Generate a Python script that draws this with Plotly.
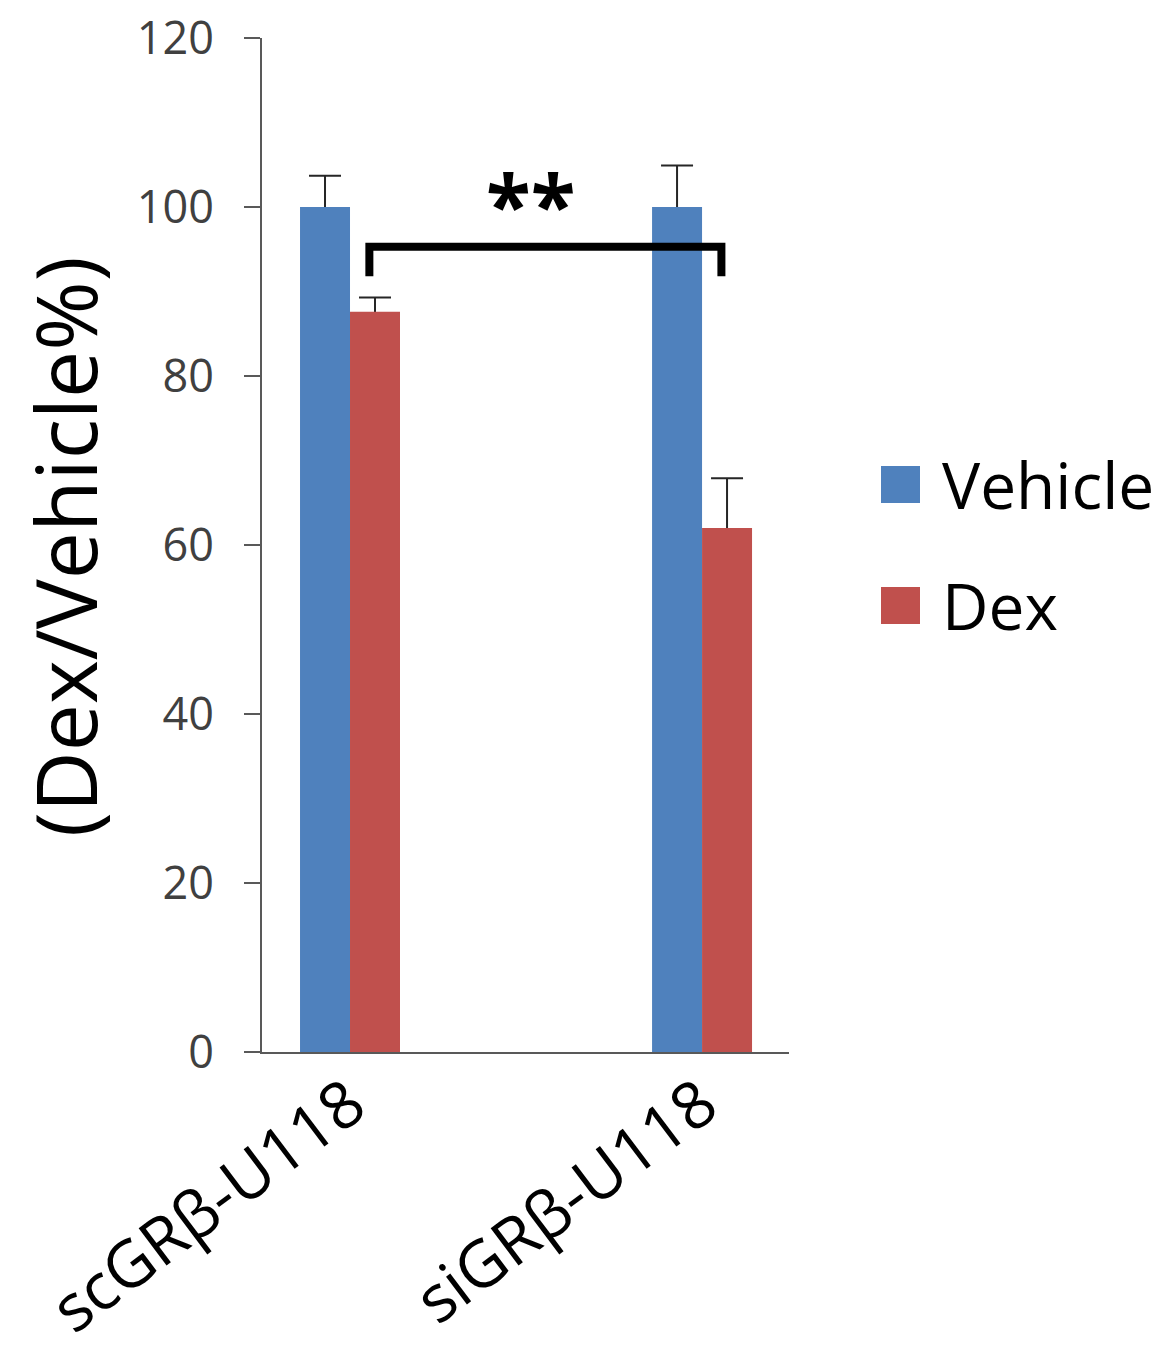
import plotly.graph_objects as go

categories = ["scGRβ-U118", "siGRβ-U118"]
vehicle = [100.0, 100.0]
vehicle_err = [3.7, 4.9]
dex = [87.6, 62.0]
dex_err = [1.7, 5.9]
y_ticks = [0, 20, 40, 60, 80, 100, 120]
series_names = ["Vehicle", "Dex"]
colors = ["#4F81BD", "#C0504D"]

bracket_top = 95.3
bracket_leg = 91.8
stars_y = 100.5

FONT = "Open Sans"
W, H = 1163, 1362
L, T = 262, 38
pw, ph = 527, 1014
R, B = W - L - pw, H - T - ph

fig = go.Figure()
series = [(series_names[0], vehicle, vehicle_err, colors[0], "v"),
          (series_names[1], dex, dex_err, colors[1], "d")]
# error-bar carriers drawn first (hidden bars) so real bars cover the lower half
for name, vals, errs, col, grp in series:
    fig.add_trace(go.Bar(
        name=name + " err", x=categories, y=vals, offsetgroup=grp,
        marker=dict(color="rgba(0,0,0,0)", line=dict(width=0)),
        error_y=dict(type="data", array=errs, symmetric=True,
                     color="#262626", thickness=2, width=16),
        showlegend=False, hoverinfo="skip",
    ))
for name, vals, errs, col, grp in series:
    fig.add_trace(go.Bar(
        name=name, x=categories, y=vals, offsetgroup=grp,
        marker=dict(color=col, line=dict(width=0)),
        showlegend=False,
    ))

# significance bracket between the two Dex bars
off = 0.055
xl, xr = 0 + off, 1 + off
fig.add_shape(type="path", xref="x", yref="y",
              path=f"M {xl},{bracket_leg} L {xl},{bracket_top} L {xr},{bracket_top} L {xr},{bracket_leg}",
              line=dict(color="black", width=8), layer="above")
fig.add_annotation(x=(xl + xr) / 2 - 0.043, y=stars_y, xref="x", yref="y", text="<b>**</b>",
                   showarrow=False, font=dict(family=FONT, size=82, color="black"),
                   xanchor="center", yanchor="middle")


def px_x(px):
    return (px - L) / pw


def px_y(py):
    return (T + ph - py) / ph


# manual legend
for i, (name, col) in enumerate(zip(series_names, colors)):
    y0 = 466 + i * 121
    fig.add_shape(type="rect", xref="paper", yref="paper",
                  x0=px_x(881), x1=px_x(920), y0=px_y(y0 + 37), y1=px_y(y0),
                  fillcolor=col, line=dict(width=0))
    fig.add_annotation(x=px_x(940), y=px_y(y0 + 18), xref="paper", yref="paper", text=name,
                       showarrow=False, xanchor="left", yanchor="middle",
                       font=dict(family=FONT, size=64, color="black"))

# y axis title
fig.add_annotation(x=px_x(64), y=px_y(547), xref="paper", yref="paper",
                   text="(Dex/Vehicle%)", textangle=-90, showarrow=False,
                   xanchor="center", yanchor="middle",
                   font=dict(family=FONT, size=84, color="black"))

fig.update_layout(
    width=W, height=H,
    margin=dict(l=L, r=R, t=T, b=B, autoexpand=False),
    paper_bgcolor="white", plot_bgcolor="white",
    barmode="group", bargap=0.716, bargroupgap=0,
    font=dict(family=FONT, color="#404040"),
    xaxis=dict(type="category", range=[-0.25, 1.247], showline=True, linecolor="#595959",
               linewidth=2, ticks="", showgrid=False, zeroline=False,
               tickangle=-37, tickfont=dict(family=FONT, size=65, color="black"),
               ticklabelstandoff=-13, ticklabeloverflow="allow", automargin=False),
    yaxis=dict(range=[0, 120], tickvals=y_ticks, showline=True, linecolor="#595959",
               linewidth=2, ticks="outside", ticklen=16, tickwidth=2, tickcolor="#595959",
               showgrid=False, zeroline=False, ticklabelstandoff=21, ticklabeloverflow="allow",
               tickfont=dict(family=FONT, size=45, color="#404040"), automargin=False),
)

fig.write_html(
    "out.html",
    config={"displayModeBar": False},
    post_script="document.body.style.margin='0';document.body.style.overflow='hidden';",
)
